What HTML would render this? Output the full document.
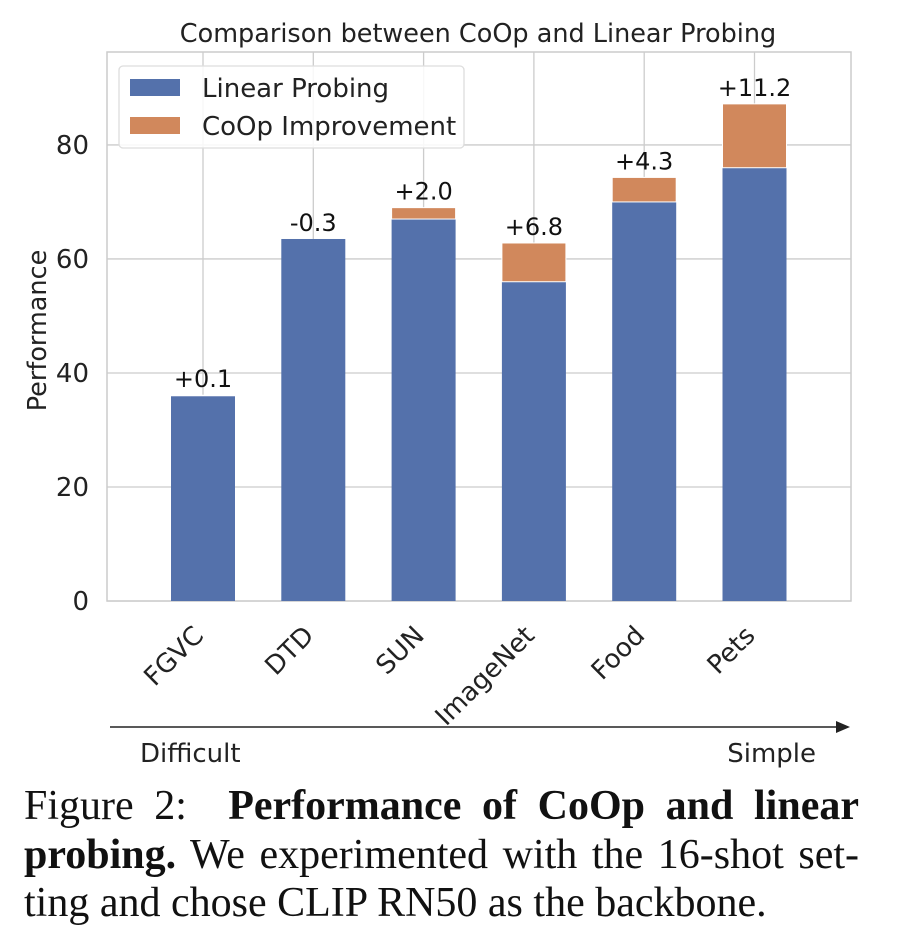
<!DOCTYPE html>
<html><head><meta charset="utf-8"><style>
body{margin:0;background:#fff;width:914px;height:917px;overflow:hidden;font-family:"DejaVu Sans","Liberation Sans",sans-serif}
#cap{position:absolute;left:24px;top:782px;width:835px;font-family:"Liberation Serif",serif;font-size:42px;line-height:48.5px;color:#111}
#cap div{white-space:nowrap;text-align:justify;text-align-last:justify;height:48.5px}
</style></head><body>
<svg id="chart" width="914" height="780" style="position:absolute;left:0;top:0" font-family="DejaVu Sans, Liberation Sans, sans-serif"></svg>
<div id="cap"><div>Figure 2:&nbsp; <b>Performance of CoOp and linear</b></div><div><b>probing.</b> We experimented with the 16-shot set-</div><div style="text-align-last:left">ting and chose CLIP RN50 as the backbone.</div></div>
<script>
const categories=["FGVC","DTD","SUN","ImageNet","Food","Pets"];
const linearProbing=[36.0,63.5,67.0,56.0,70.0,76.0];
const coopImprovement=[0.1,-0.3,2.0,6.8,4.3,11.2];
const deltaLabels=["+0.1","-0.3","+2.0","+6.8","+4.3","+11.2"];
const yTicks=[0,20,40,60,80];
const svg=document.getElementById('chart');
const NS='http://www.w3.org/2000/svg';
const L=107,R=851,T=52,B=601,yMax=96.3;
const y=v=>B-v/yMax*(B-T);
const step=110.3,x0=203;
const x=i=>x0+i*step;
const bw=64;
function mk(t,a,txt){const e=document.createElementNS(NS,t);for(const k in a)e.setAttribute(k,a[k]);if(txt!==undefined)e.textContent=txt;svg.appendChild(e);return e;}
let e;
e=mk('rect',{x:L,y:T,width:R-L,height:B-T,fill:'#fff',stroke:'#ccc','stroke-width':1.5});

yTicks.forEach(v=>{e=mk('line',{x1:L,x2:R,y1:y(v),y2:y(v),stroke:'#ccc','stroke-width':1.3});

e=mk('text',{x:89,y:y(v)+9,'text-anchor':'end','font-size':26,fill:'#222'},v);
});
categories.forEach((c,i)=>{e=mk('line',{x1:x(i),x2:x(i),y1:T,y2:B,stroke:'#ccc','stroke-width':1.3});
});
categories.forEach((c,i)=>{
 const lp=linearProbing[i],d=coopImprovement[i];
 e=mk('rect',{x:x(i)-bw/2,y:y(lp),width:bw,height:B-y(lp),fill:'#5471ab'});
 
 let top=y(lp);
 if(d>0){top=y(lp+d);
  e=mk('rect',{x:x(i)-bw/2,y:top,width:bw,height:y(lp)-top,fill:'#d1885c',stroke:'#fff','stroke-width':1});
  }
 e=mk('text',{x:x(i),y:top-8,'text-anchor':'middle','font-size':24,fill:'#111'},deltaLabels[i]);
 
 e=mk('text',{x:0,y:0,'text-anchor':'end','font-size':26,fill:'#222',transform:`translate(${x(i)+2},${B+36}) rotate(-45)`},c);
 
});
e=mk('text',{x:0,y:0,'text-anchor':'middle','font-size':25.5,fill:'#222',transform:`translate(46,${(T+B)/2+4}) rotate(-90)`},'Performance');

e=mk('text',{x:(L+R)/2-1,y:42,'text-anchor':'middle','font-size':25.5,fill:'#222'},'Comparison between CoOp and Linear Probing');

e=mk('rect',{x:119,y:66,width:345,height:82,rx:4,fill:'#fff','fill-opacity':0.85,stroke:'#ddd','stroke-width':1.3});

e=mk('rect',{x:130,y:79,width:50,height:17,fill:'#5471ab'});

e=mk('text',{x:202,y:97,'font-size':26,fill:'#222'},'Linear Probing');

e=mk('rect',{x:130,y:117,width:50,height:17,fill:'#d1885c'});

e=mk('text',{x:202,y:135,'font-size':26,fill:'#222'},'CoOp Improvement');

e=mk('line',{x1:110,x2:840,y1:727,y2:727,stroke:'#222','stroke-width':1.5});

e=mk('polygon',{points:'850,727 836,721 836,733',fill:'#222'});

e=mk('text',{x:140,y:762,'font-size':26,fill:'#222'},'Difficult');

e=mk('text',{x:816,y:762,'text-anchor':'end','font-size':26,fill:'#222'},'Simple');

</script>
</body></html>
